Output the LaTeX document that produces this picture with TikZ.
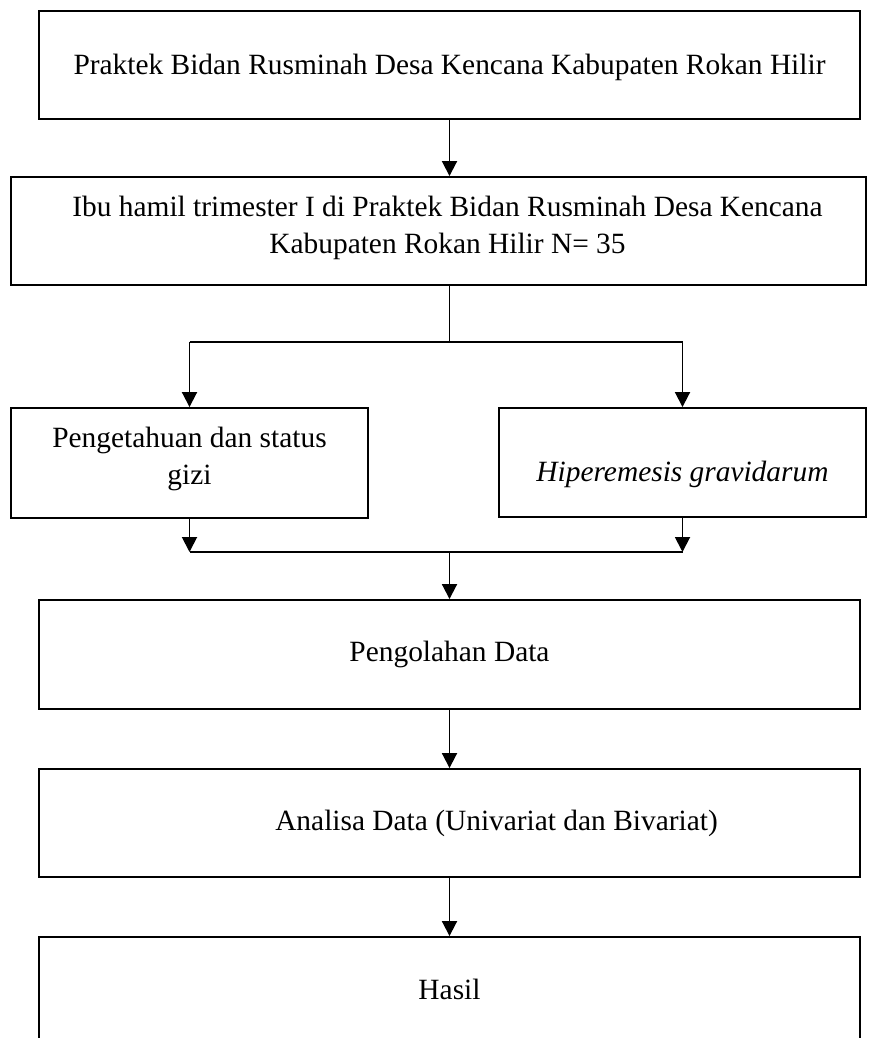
\documentclass[tikz,border=0pt]{standalone}
\usepackage{fontspec}
\setmainfont{Liberation Serif}
\usetikzlibrary{arrows.meta}
\begin{document}
\begin{tikzpicture}[x=1pt,y=-1pt,
  box/.style={draw=black,line width=1.9pt,rectangle,inner sep=0pt},
  txt/.style={align=center,inner sep=0pt,font=\fontsize{29.4}{37}\selectfont},
  arr/.style={line width=1.9pt,-{Triangle[width=15pt,length=15pt]}},
  ln/.style={line width=1.9pt}]
\useasboundingbox[fill=white] (0,0) rectangle (868,1038);
\node[box,minimum width=821pt,minimum height=108pt,
  label={[txt,yshift=-2pt]center:Praktek Bidan Rusminah Desa Kencana Kabupaten Rokan Hilir}] (b1) at (449.5,65) {};
\node[box,minimum width=855pt,minimum height=108pt,
  label={[txt,yshift=3pt,xshift=9pt]center:Ibu hamil trimester I di Praktek Bidan Rusminah Desa Kencana\\Kabupaten Rokan Hilir N= 35}] (b2) at (438.5,231) {};
\node[box,minimum width=357pt,minimum height=110pt,
  label={[txt,yshift=4pt]center:Pengetahuan dan status\\gizi}] (L) at (189.5,463) {};
\node[box,minimum width=367pt,minimum height=109pt,
  label={[txt,yshift=-12pt,font=\fontsize{29.4}{37}\selectfont\itshape]center:Hiperemesis gravidarum}] (R) at (682.5,462.5) {};
\node[box,minimum width=821pt,minimum height=109pt,
  label={[txt]center:Pengolahan Data}] (b3) at (449.5,654.5) {};
\node[box,minimum width=821pt,minimum height=108pt,
  label={[txt,xshift=47pt]center:Analisa Data (Univariat dan Bivariat)}] (b4) at (449.5,823) {};
\node[box,minimum width=821pt,minimum height=108pt,
  label={[txt,yshift=2pt]center:Hasil}] (b5) at (449.5,991) {};
\coordinate (sp) at (449.5,342);
\coordinate (mg) at (449.5,552);
\draw[arr] (b1.south) -- (b2.north -| b1.south);
\draw[ln] (b2.south -| sp) -- (sp);
\draw[ln] (L.north |- sp) -- (R.north |- sp);
\draw[arr] (L.north |- sp) -- (L.north);
\draw[arr] (R.north |- sp) -- (R.north);
\draw[arr] (L.south) -- (L.south |- mg);
\draw[arr] (R.south) -- (R.south |- mg);
\draw[ln] (L.south |- mg) -- (R.south |- mg);
\draw[arr] (mg) -- (b3.north);
\draw[arr] (b3.south) -- (b4.north);
\draw[arr] (b4.south) -- (b5.north);
\end{tikzpicture}
\end{document}
